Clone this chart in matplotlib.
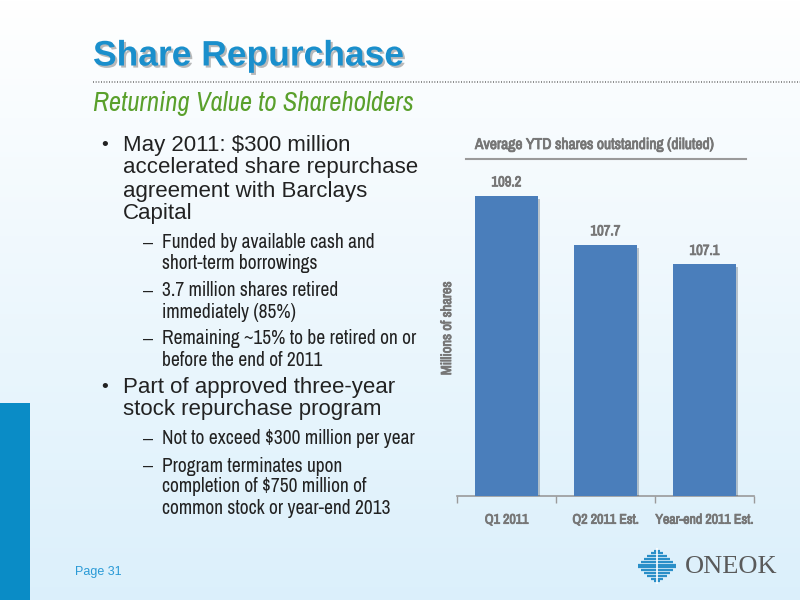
import numpy as np
import matplotlib
matplotlib.use('Agg')
import matplotlib.pyplot as plt
import matplotlib.patheffects as pe
from matplotlib.patches import Rectangle

# chart data
categories = ['Q1 2011', 'Q2 2011 Est.', 'Year-end 2011 Est.']
shares = [109.2, 107.7, 107.1]

title = 'Share Repurchase'
subtitle = 'Returning Value to Shareholders'
chart_title = 'Average YTD shares outstanding (diluted)'
y_label = 'Millions of shares'

# (level, lines) ; level 0 = main bullet, 1 = sub bullet
bullets = [
    (0, ['May 2011: $300 million', 'accelerated share repurchase',
         'agreement with Barclays', 'Capital']),
    (1, ['Funded by available cash and', 'short-term borrowings']),
    (1, ['3.7 million shares retired', 'immediately (85%)']),
    (1, ['Remaining ~15% to be retired on or', 'before the end of 2011']),
    (0, ['Part of approved three-year', 'stock repurchase program']),
    (1, ['Not to exceed $300 million per year']),
    (1, ['Program terminates upon', 'completion of $750 million of',
         'common stock or year-end 2013']),
]

W, H = 800, 600
sans = ['Liberation Sans', 'DejaVu Sans']
narrow = ['Archivo Narrow', 'Liberation Sans', 'DejaVu Sans']
bar_blue = '#4a7ebb'
grey = '#767676'
bold_fx = [pe.withStroke(linewidth=0.6, foreground=grey)]


def px(x, y):
    return x / W, 1 - y / H


fig = plt.figure(figsize=(8, 6), dpi=100)

# background gradient
bg = fig.add_axes([0, 0, 1, 1], zorder=-10)
grad = np.linspace(0, 1, 256).reshape(-1, 1)
top = np.array([1.0, 1.0, 1.0])
bot = np.array([0.86, 0.94, 0.985])
img = top + (bot - top) * grad[:, :, None] * np.ones((1, 1, 3))
bg.imshow(img, aspect='auto', extent=[0, 1, 0, 1], origin='upper')
bg.set_xlim(0, 1)
bg.set_ylim(0, 1)
bg.axis('off')

# left blue strip
bg.add_patch(Rectangle(px(0, 600), 30 / W, 197 / H, color='#0a8cc6', lw=0))

# title
fig.text(*px(93, 56), title, fontsize=25.5, fontweight='bold', color='#1a8fcc',
         family=sans, va='center', ha='left',
         path_effects=[pe.withSimplePatchShadow(offset=(1.5, -1.5), shadow_rgbFace='#555555', alpha=0.4)])
fig.add_artist(plt.Line2D([93 / W, 1], [1 - 82 / H] * 2, color='#777777', lw=1.2, ls=(0, (0.6, 1.0))))
fig.text(*px(93, 104), subtitle, fontsize=19.3, style='italic', color='#5aa02c',
         family=narrow, va='center', ha='left')

# bullet text
y = 145
for level, lines in bullets:
    if level == 0:
        fig.text(*px(101, y), '\u2022', fontsize=14, color='#222222', family=sans, va='center')
        for ln in lines:
            fig.text(*px(123, y), ln, fontsize=16, color='#222222', family=sans, va='center')
            y += 23
        y += 6
    else:
        fig.text(*px(143, y), '\u2013', fontsize=13, color='#222222', family=sans, va='center')
        for ln in lines:
            fig.text(*px(162, y), ln, fontsize=14, color='#222222', family=narrow, va='center')
            y += 21
        y += 6

fig.text(*px(75, 572), 'Page 31', fontsize=9, color='#2a9ad6', family=sans, va='center')

# bar chart
ax = fig.add_axes([457 / W, 1 - 496 / H, 297 / W, 336 / H])
ax.patch.set_alpha(0)
x = np.arange(len(categories))
bars = ax.bar(x, shares, width=0.63, color=bar_blue, zorder=3,
              path_effects=[pe.SimplePatchShadow(offset=(2, -2), alpha=0.25), pe.Normal()])
ax.set_ylim(100, 110.3)
ax.set_xlim(-0.5, len(categories) - 0.5)
for xi, v in zip(x, shares):
    ax.text(xi, v + 0.2, f'{v:.1f}', ha='center', va='bottom', fontsize=10.5,
            color=grey, family=narrow, path_effects=bold_fx)

for s in ['top', 'right', 'left']:
    ax.spines[s].set_visible(False)
ax.spines['bottom'].set_color('#9a9a9a')
ax.spines['bottom'].set_linewidth(1.2)
ax.set_yticks([])
ax.set_xticks(np.arange(-0.5, len(categories)), [''] * (len(categories) + 1))
ax.tick_params(axis='x', which='major', length=5, color='#9a9a9a', width=1)
ax.set_xticks(x, categories, minor=True)
ax.tick_params(axis='x', which='minor', length=0, pad=12, labelsize=10,
               labelcolor=grey)
for t in ax.get_xticklabels(minor=True):
    t.set_family(narrow)
    t.set_path_effects(bold_fx)
ax.set_ylabel(y_label, fontsize=10.5, color=grey, family=narrow, path_effects=bold_fx)
ax.yaxis.set_label_coords(-0.01, 0.5)

fig.text(*px(594, 145), chart_title, fontsize=11.2, color=grey, family=narrow,
         ha='center', va='center', path_effects=bold_fx)
fig.add_artist(plt.Line2D([466 / W, 746 / W], [1 - 159 / H] * 2, color='#9a9a9a', lw=1.5))

# logo
logo = fig.add_axes([636 / W, 1 - 584 / H, 42 / W, 36 / H])
logo.set_xlim(-1, 1)
logo.set_ylim(-1, 1)
logo.axis('off')
for yy in np.linspace(-0.85, 0.85, 12):
    half = 1 - abs(yy)
    logo.plot([-half, half], [yy, yy], color='#2a8fc8', lw=1.6, solid_capstyle='butt')
logo.plot([0, 0], [-1, 1], color='white', lw=1.2)
fig.text(*px(685, 567), 'ONEOK', fontsize=19, color='#5a5a5a', family=['Liberation Serif', 'DejaVu Serif'],
         va='center', ha='left')

fig.savefig('out.png', dpi=100)
